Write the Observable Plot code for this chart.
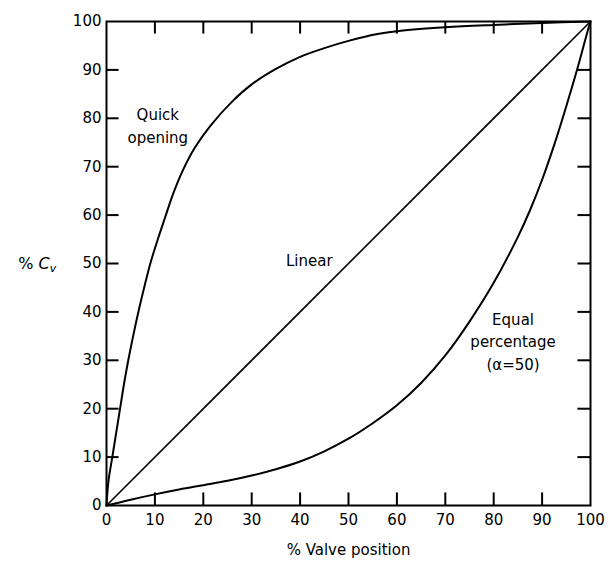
<!DOCTYPE html>
<html>
<head>
<meta charset="utf-8">
<script src="https://cdn.jsdelivr.net/npm/d3@7"></script>
<script src="https://cdn.jsdelivr.net/npm/@observablehq/plot@0.6"></script>
<style>
  html, body { margin: 0; padding: 0; background: #fff; }
  svg { display: block; }
</style>
</head>
<body>
<div id="chart"></div>
<script>
// ---- data ----
const valvePosition = [0, 10, 20, 30, 40, 50, 60, 70, 80, 90, 100]; // tick labels
const cvTicks = [0, 10, 20, 30, 40, 50, 60, 70, 80, 90, 100];

const quickX = [0, 0.4, 1.2, 2.0, 2.8, 3.6, 4.5, 5.5, 6.7, 7.9, 9.2, 10.6, 12.1, 13.8, 15.8, 18.3, 21.5, 26, 30, 35, 40, 45, 50, 56, 60, 70, 80, 90, 100];
const quickY = [0, 5, 10, 15, 20, 25, 30, 35, 40.5, 45.5, 50.5, 55, 59.5, 64.5, 69.3, 74, 78.5, 83.5, 87, 90.2, 92.7, 94.5, 96, 97.4, 98, 98.8, 99.3, 99.7, 100];

const linearX = [0, 100];
const linearY = [0, 100];

const equalX = [0, 5, 10, 15, 20, 25, 30, 35, 40, 45, 50, 55, 60, 65, 70, 75, 80, 85, 87.5, 90, 92.5, 95, 97.5, 99.4, 100];
const equalY = [0, 1.2, 2.3, 3.3, 4.2, 5.1, 6.2, 7.5, 9.1, 11.2, 13.8, 17, 20.7, 25.3, 31, 38, 46, 55.5, 61, 67.3, 74.5, 82.5, 91, 98, 100];

const curveLabels = ["Quick\nopening", "Linear", "Equal\npercentage\n(α=50)"];
const labelX = [10.6, 41.9, 84.0];
const labelY = [78.8, 51.0, 34.2];

const xTitle = "% Valve position";
const yTitle = "% Cv";

// ---- build tables ----
const quick = quickX.map((x, i) => ({x, y: quickY[i]}));
const linear = linearX.map((x, i) => ({x, y: linearY[i]}));
const equal = equalX.map((x, i) => ({x, y: equalY[i]}));
const labels = curveLabels.map((t, i) => ({t, x: labelX[i], y: labelY[i]}));
const innerX = valvePosition.filter(v => v > 0 && v < 100);
const innerY = cvTicks.filter(v => v > 0 && v < 100);
const T = 2.6; // tick length in data units

const font = "DejaVu Sans, sans-serif";

const chart = Plot.plot({
  width: 608,
  height: 562,
  marginLeft: 106,
  marginRight: 18,
  marginTop: 21,
  marginBottom: 57,
  style: {fontFamily: font, fontSize: "15px", color: "#000", background: "#fff", overflow: "visible"},
  x: {domain: [0, 100]},
  y: {domain: [0, 100]},
  marks: [
    Plot.axisX(valvePosition, {tickSize: 0, tickPadding: 9, fontSize: 15, label: null}),
    Plot.axisY(cvTicks, {tickSize: 0, tickPadding: 5, fontSize: 15, label: null}),
    // inward ticks on all four sides
    Plot.ruleX(innerX, {x: d => d, y1: 0, y2: T, stroke: "#000", strokeWidth: 2}),
    Plot.ruleX(innerX, {x: d => d, y1: 100 - T, y2: 100, stroke: "#000", strokeWidth: 2}),
    Plot.ruleY(innerY, {y: d => d, x1: 0, x2: T, stroke: "#000", strokeWidth: 2}),
    Plot.ruleY(innerY, {y: d => d, x1: 100 - T, x2: 100, stroke: "#000", strokeWidth: 2}),
    Plot.line(linear, {x: "x", y: "y", stroke: "#000", strokeWidth: 1.6}),
    Plot.line(quick, {x: "x", y: "y", stroke: "#000", strokeWidth: 2, curve: "catmull-rom"}),
    Plot.line(equal, {x: "x", y: "y", stroke: "#000", strokeWidth: 2, curve: "catmull-rom"}),
    Plot.text(labels, {x: "x", y: "y", text: "t", fontSize: 15, lineHeight: 1.5, textAnchor: "middle", fill: "#000"}),
    Plot.text([xTitle], {x: 50, y: -9.3, text: d => d, fontSize: 15, fill: "#000"}),
    Plot.text([yTitle], {x: -14.3, y: 50, text: d => d, fontSize: 16, fill: "#000"}),
    Plot.frame({stroke: "#000", strokeWidth: 2})
  ]
});

document.getElementById("chart").appendChild(chart);

// style the y title as "% C" with italic C and subscript v
d3.select(chart).selectAll("text").each(function () {
  if (this.textContent === yTitle) {
    const t = d3.select(this);
    t.text(null);
    t.append("tspan").text("% ");
    t.append("tspan").attr("font-style", "italic").text("C");
    t.append("tspan").attr("font-style", "italic").attr("font-size", "11px").attr("dy", "0.3em").text("v");
  }
});
</script>
</body>
</html>
